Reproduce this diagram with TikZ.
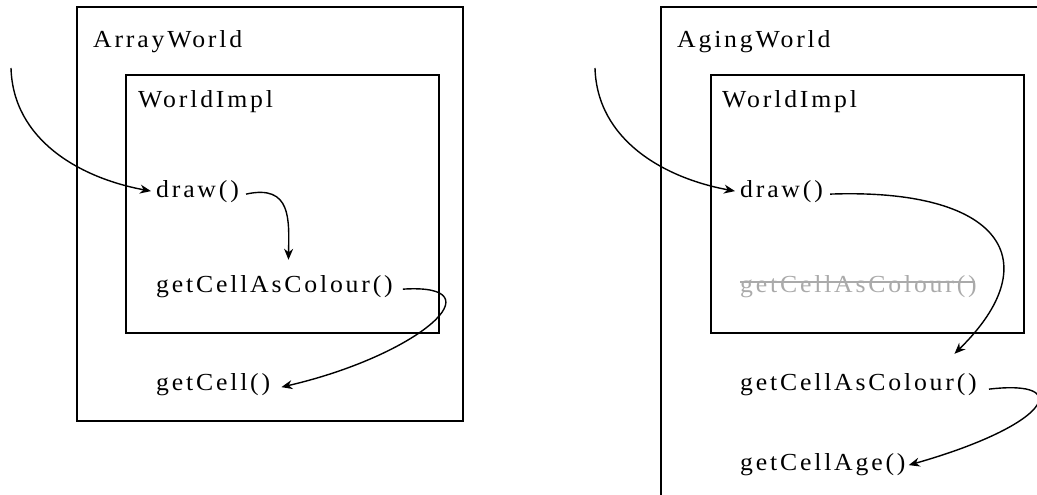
\documentclass[tikz,border=0pt]{standalone}
\usepackage{fontspec}
\setmainfont{Liberation Serif}[LetterSpace=11.5,FakeStretch=1.05]
\usetikzlibrary{arrows.meta}
\definecolor{struck}{RGB}{170,170,170}
\begin{document}
\begin{tikzpicture}[x=1pt,y=-1pt,
  box/.style={draw,line width=1.7pt},
  lbl/.style={anchor=base west,inner sep=0pt,font=\fontsize{24.5}{29}\selectfont},
  arr/.style={line width=1.4pt,-{Stealth[length=11pt,width=9pt,inset=3.5pt]}}]
\useasboundingbox (0,0) rectangle (1037,495);
\clip (0,0) rectangle (1037,495);
% ---------- left: ArrayWorld ----------
\draw[box] (77,7) rectangle (463,421);
\draw[box] (126,75) rectangle (439,333);
\node[lbl] (aw) at (93,48) {ArrayWorld};
\node[lbl] (wi1) at (138,107) {WorldImpl};
\node[lbl] (d1) at (156,197) {draw()};
\node[lbl] (gc1) at (156,292) {getCellAsColour()};
\node[lbl] (gcl) at (156,390) {getCell()};
\coordinate (s1) at (11,68);
\draw[arr] (s1) .. controls (13,140) and (80,178) .. ([xshift=-5pt]d1.west);
\draw[arr] ([shift={(7,3)}]d1.east) .. controls (292,184) and (289,220) .. ([shift={(14,-15)}]gc1.north);
\draw[arr] ([shift={(10,3)}]gc1.east) .. controls (500,283) and (420,355) .. ([shift={(11,3)}]gcl.east);
% ---------- right: AgingWorld ----------
\draw[box] (661,7) rectangle (1080,540);
\draw[box] (711,75) rectangle (1024,333);
\node[lbl] (agw) at (677,48) {AgingWorld};
\node[lbl] (wi2) at (722,107) {WorldImpl};
\node[lbl] (d2) at (740,197) {draw()};
\node[lbl,text=struck] (gcg) at (740,292) {getCellAsColour()};
\draw[struck,line width=1.2pt] ([shift={(0,-10)}]gcg.base west) -- ([shift={(-2,-10)}]gcg.base east);
\node[lbl] (gc2) at (740,390) {getCellAsColour()};
\node[lbl] (gca) at (740,470) {getCellAge()};
\coordinate (s2) at (595,68);
\draw[arr] (s2) .. controls (597,140) and (664,178) .. ([xshift=-5pt]d2.west);
\draw[arr] ([shift={(7,3)}]d2.east) .. controls (1000,188) and (1050,260) .. ([shift={(96,-19)}]gc2.north);
\draw[arr] ([shift={(12,5)}]gc2.east) .. controls (1075,379) and (1050,425) .. ([shift={(3,1)}]gca.east);
\end{tikzpicture}
\end{document}
